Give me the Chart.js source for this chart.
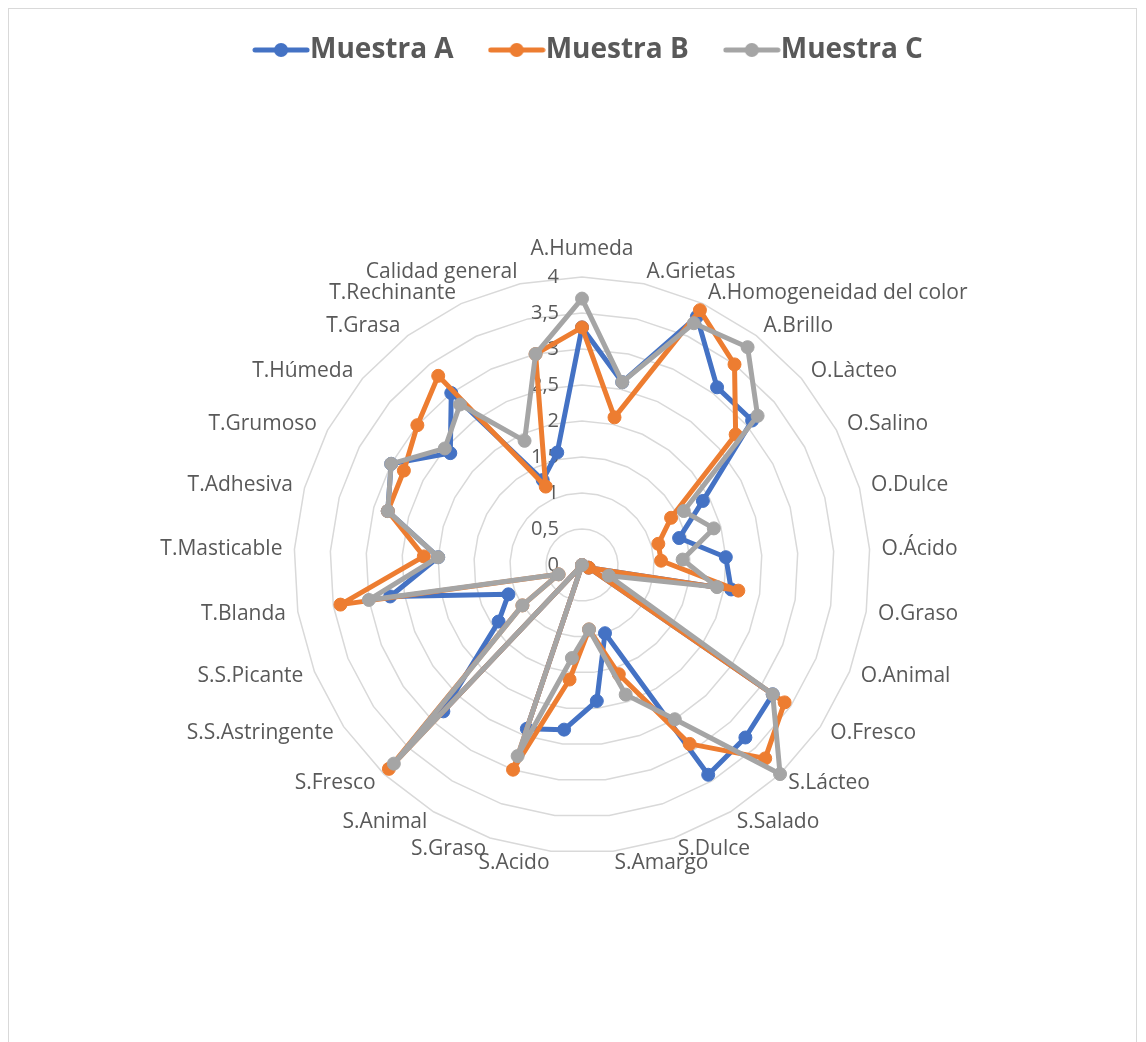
<!DOCTYPE html>
<html lang="es">
<head>
<meta charset="utf-8">
<title>Perfil sensorial</title>
<script src="https://cdn.jsdelivr.net/npm/chart.js@4.4.1/dist/chart.umd.min.js"></script>
<style>
  html, body { margin: 0; padding: 0; background: #ffffff; }
  #wrap { position: relative; width: 1146px; height: 1042px; overflow: hidden; }
  #frame { position: absolute; left: 8px; top: 8px; width: 1129px; height: 1060px;
           border: 1px solid #d9d9d9; box-sizing: border-box; }
  #chart { position: absolute; left: 0; top: 0; }
</style>
</head>
<body>
<div id="wrap">
  <div id="frame"></div>
  <canvas id="chart" width="1146" height="1042"></canvas>
</div>
<script>
// Atributos evaluados (eje radial)
const CATEGORIES = [
  'A.Humeda', 'A.Grietas', 'A.Homogeneidad del color', 'A.Brillo',
  'O.Làcteo', 'O.Salino', 'O.Dulce', 'O.Ácido', 'O.Graso', 'O.Animal', 'O.Fresco',
  'S.Lácteo', 'S.Salado', 'S.Dulce', 'S.Amargo', 'S.Acido', 'S.Graso', 'S.Animal', 'S.Fresco',
  'S.S.Astringente', 'S.S.Picante',
  'T.Blanda', 'T.Masticable', 'T.Adhesiva', 'T.Grumoso', 'T.Húmeda', 'T.Grasa', 'T.Rechinante',
  'Calidad general'
];

// Puntuaciones medias por muestra
const MUESTRA_A = [3.3, 2.6, 3.8, 3.1, 3.1, 1.9, 1.4, 2.0, 2.1, 0.1, 3.2,
                   3.3, 3.4, 1.0, 1.9, 2.3, 2.4, 0, 2.8, 1.4, 1.1,
                   2.7, 2.0, 2.8, 3.0, 2.4, 3.0, 1.3, 1.6];
const MUESTRA_B = [3.3, 2.1, 3.9, 3.5, 2.8, 1.4, 1.1, 1.1, 2.2, 0.1, 3.4,
                   3.7, 2.9, 1.6, 0.9, 1.6, 3.0, 0, 3.9, 1.0, 0.35,
                   3.4, 2.2, 2.8, 2.8, 3.0, 3.3, 1.2, 3.0];
const MUESTRA_C = [3.7, 2.6, 3.7, 3.8, 3.2, 1.6, 1.9, 1.4, 1.9, 0.4, 3.2,
                   4.0, 2.5, 1.9, 0.9, 1.3, 2.8, 0, 3.8, 1.0, 0.35,
                   3.0, 2.0, 2.8, 3.0, 2.5, 2.8, 1.9, 3.0];

const SERIES_NAMES = ['Muestra A', 'Muestra B', 'Muestra C'];
const SERIES_COLORS = ['#4472C4', '#ED7D31', '#A5A5A5'];

// Escala radial
const TICK_VALUES = [0, 0.5, 1, 1.5, 2, 2.5, 3, 3.5, 4];
const TICK_LABELS = ['0', '0,5', '1', '1,5', '2', '2,5', '3', '3,5', '4'];

// Geometría del gráfico
const CENTER_X = 582;
const CENTER_Y = 565;
const RADIUS = 288;
const TEXT_COLOR = '#595959';
const LABEL_FONT = '21px "Open Sans"';
const TICK_FONT = '20px "Open Sans"';

// Icono de leyenda: línea con marcador circular
function legendIcon(color) {
  const c = document.createElement('canvas');
  c.width = 58; c.height = 16;
  const g = c.getContext('2d');
  g.strokeStyle = color; g.lineWidth = 5; g.lineCap = 'round';
  g.beginPath(); g.moveTo(3, 8); g.lineTo(55, 8); g.stroke();
  g.fillStyle = color;
  g.beginPath(); g.arc(29, 8, 7, 0, Math.PI * 2); g.fill();
  return c;
}
const LEGEND_ICONS = SERIES_COLORS.map(legendIcon);

// Etiquetas de los ejes y de la escala dibujadas con la geometría de la escala r
const radarText = {
  id: 'radarText',
  beforeDatasetsDraw(chart) {
    const scale = chart.scales.r;
    const ctx = chart.ctx;
    const n = CATEGORIES.length;
    ctx.save();
    ctx.fillStyle = TEXT_COLOR;

    // valores de la escala, alineados a la derecha del eje vertical
    ctx.font = TICK_FONT;
    ctx.textAlign = 'right';
    ctx.textBaseline = 'middle';
    TICK_VALUES.forEach((v, i) => {
      const d = scale.getDistanceFromCenterForValue(v);
      ctx.fillText(TICK_LABELS[i], scale.xCenter - 23, scale.yCenter - d);
    });

    // nombres de los atributos
    ctx.font = LABEL_FONT;
    CATEGORIES.forEach((label, i) => {
      const deg = i * 360 / n;
      const extra = deg === 0 ? 28 : 12;
      const p = scale.getPointPosition(i, scale.drawingArea + extra);
      ctx.textAlign = deg === 0 ? 'center' : (deg < 180 ? 'left' : 'right');
      ctx.textBaseline = 'middle';
      ctx.fillText(label, p.x, p.y);
    });
    ctx.restore();
  }
};

const seriesValues = [MUESTRA_A, MUESTRA_B, MUESTRA_C];
const datasets = SERIES_NAMES.map((name, k) => ({
  label: name,
  data: seriesValues[k],
  borderColor: SERIES_COLORS[k],
  backgroundColor: SERIES_COLORS[k],
  borderWidth: 5,
  borderJoinStyle: 'round',
  borderCapStyle: 'round',
  fill: false,
  pointRadius: 6.5,
  pointHoverRadius: 6.5,
  pointBorderWidth: 1,
  pointBackgroundColor: SERIES_COLORS[k],
  pointBorderColor: SERIES_COLORS[k],
  order: SERIES_NAMES.length - k
}));

new Chart(document.getElementById('chart'), {
  type: 'radar',
  data: { labels: CATEGORIES, datasets },
  plugins: [radarText],
  options: {
    responsive: false,
    animation: false,
    events: [],
    layout: { padding: { top: -12, left: 43, right: 0, bottom: 0 } },
    plugins: {
      tooltip: { enabled: false },
      legend: {
        display: true,
        position: 'top',
        labels: {
          usePointStyle: true,
          pointStyleWidth: 30,
          padding: 48,
          color: TEXT_COLOR,
          font: { family: '"Open Sans"', size: 28, weight: 'bold' },
          sort: (a, b) => a.datasetIndex - b.datasetIndex,
          generateLabels(chart) {
            const items = Chart.defaults.plugins.legend.labels.generateLabels(chart);
            items.forEach(it => { it.pointStyle = LEGEND_ICONS[it.datasetIndex]; });
            return items;
          }
        }
      }
    },
    scales: {
      r: {
        min: 0,
        max: 4,
        ticks: { stepSize: 0.5, display: false },
        grid: { color: '#d9d9d9', lineWidth: 1.5 },
        angleLines: { display: false },
        pointLabels: { display: false },
        afterFit(scale) {
          scale.xCenter = CENTER_X;
          scale.yCenter = CENTER_Y;
          scale.drawingArea = RADIUS;
        }
      }
    }
  }
});
</script>
</body>
</html>
